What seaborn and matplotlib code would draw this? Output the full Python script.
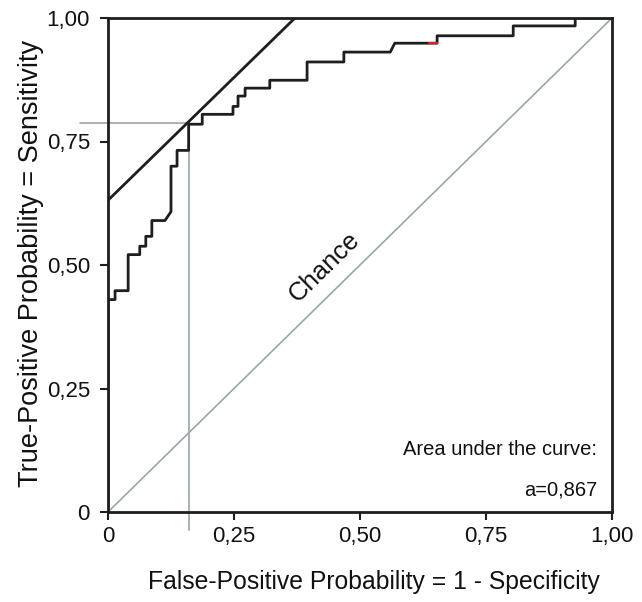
import matplotlib
matplotlib.use("Agg")
import matplotlib.pyplot as plt
from matplotlib import font_manager
import seaborn as sns
import pandas as pd

# ROC curve vertices (false-positive rate, true-positive rate)
fpr = [0, 0, 0.014, 0.014, 0.04, 0.04, 0.063, 0.063, 0.075, 0.075, 0.087, 0.087,
       0.113, 0.125, 0.125, 0.137, 0.137, 0.16, 0.16, 0.187, 0.187, 0.248, 0.248,
       0.258, 0.258, 0.272, 0.272, 0.321, 0.321, 0.395, 0.395, 0.468, 0.468, 0.56,
       0.569, 0.653, 0.653, 0.804, 0.804, 0.927, 0.927, 1.0]
tpr = [0, 0.43, 0.43, 0.448, 0.448, 0.521, 0.521, 0.538, 0.538, 0.558, 0.558, 0.590,
       0.590, 0.608, 0.70, 0.70, 0.732, 0.732, 0.785, 0.785, 0.805, 0.805, 0.821,
       0.821, 0.842, 0.842, 0.858, 0.858, 0.874, 0.874, 0.911, 0.911, 0.931, 0.931,
       0.949, 0.949, 0.964, 0.964, 0.984, 0.984, 1.0, 1.0]

# optimal cut-off point and tangent (Youden) line
cut_fpr = 0.16
cut_tpr = 0.787
tangent_x = [0.0, 0.371]
tangent_y = [0.631, 1.0]

ticks = [0, 0.25, 0.5, 0.75, 1.0]
tick_labels = ["0", "0,25", "0,50", "0,75", "1,00"]
auc_line1 = "Area under the curve:"
auc_line2 = "a=0,867"

sns.set_theme(style="white")
plt.rcParams['font.family'] = ['Liberation Sans', 'DejaVu Sans']

# condensed font for the AUC annotation if available
try:
    font_manager.findfont("Liberation Sans Narrow", fallback_to_default=False)
    auc_family, auc_size = ["Liberation Sans Narrow", "DejaVu Sans"], 17.5
except Exception:
    auc_family, auc_size = ["Liberation Sans", "DejaVu Sans"], 14.5

fig = plt.figure(figsize=(6.42, 6.02), dpi=100)
ax = fig.add_axes([108/642, 90/602, 504/642, 494/602])

gray = "#9aa6aa"
dark = "#1e1e1e"
# chance diagonal
sns.lineplot(x=[0, 1], y=[0, 1], ax=ax, color=gray, lw=1.2, sort=False, estimator=None)
# cut-off guide lines
ax.plot([-0.055, cut_fpr], [cut_tpr, cut_tpr], color=gray, lw=1.2, clip_on=False)
ax.plot([cut_fpr, cut_fpr], [cut_tpr, -0.036], color=gray, lw=1.2, clip_on=False)
# tangent line
sns.lineplot(x=tangent_x, y=tangent_y, ax=ax, color=dark, lw=2.0, sort=False, estimator=None)
# ROC curve
df = pd.DataFrame({"fpr": fpr, "tpr": tpr})
sns.lineplot(data=df, x="fpr", y="tpr", ax=ax, color=dark, lw=2.0,
             sort=False, estimator=None)
ax.plot([0.637, 0.652], [0.949, 0.949], color="#e02020", lw=1.5)

ax.set_xlim(0, 1)
ax.set_ylim(0, 1)
ax.set_xticks(ticks)
ax.set_xticklabels(tick_labels)
ax.set_yticks(ticks)
ax.set_yticklabels(tick_labels)
ax.tick_params(axis="both", which="both", direction="out", length=6, width=1.5,
               color=dark, labelsize=16, labelcolor="#111111",
               bottom=True, left=True)
ax.tick_params(axis="x", pad=4)
ax.tick_params(axis="y", pad=7)
for s in ax.spines.values():
    s.set_color(dark)
    s.set_linewidth(2.0)
ax.set_xlabel("False-Positive Probability = 1 - Specificity", fontsize=17.8,
              color="#111111")
ax.xaxis.set_label_coords(0.528, -0.117)
ax.set_ylabel("True-Positive Probability = Sensitivity", fontsize=19.5,
              color="#111111")
ax.yaxis.set_label_coords(-0.127, 0.503)

ax.text(0.429, 0.495, "Chance", rotation=44.4, fontsize=18.5, color="#111111",
        ha="center", va="center", rotation_mode="anchor")
ax.text(0.970, 0.1156, auc_line1, ha="right", va="baseline", fontsize=auc_size,
        color="#111111", family=auc_family)
ax.text(0.970, 0.034, auc_line2, ha="right", va="baseline", fontsize=auc_size,
        color="#111111", family=auc_family)

fig.savefig("out.png", dpi=100)
